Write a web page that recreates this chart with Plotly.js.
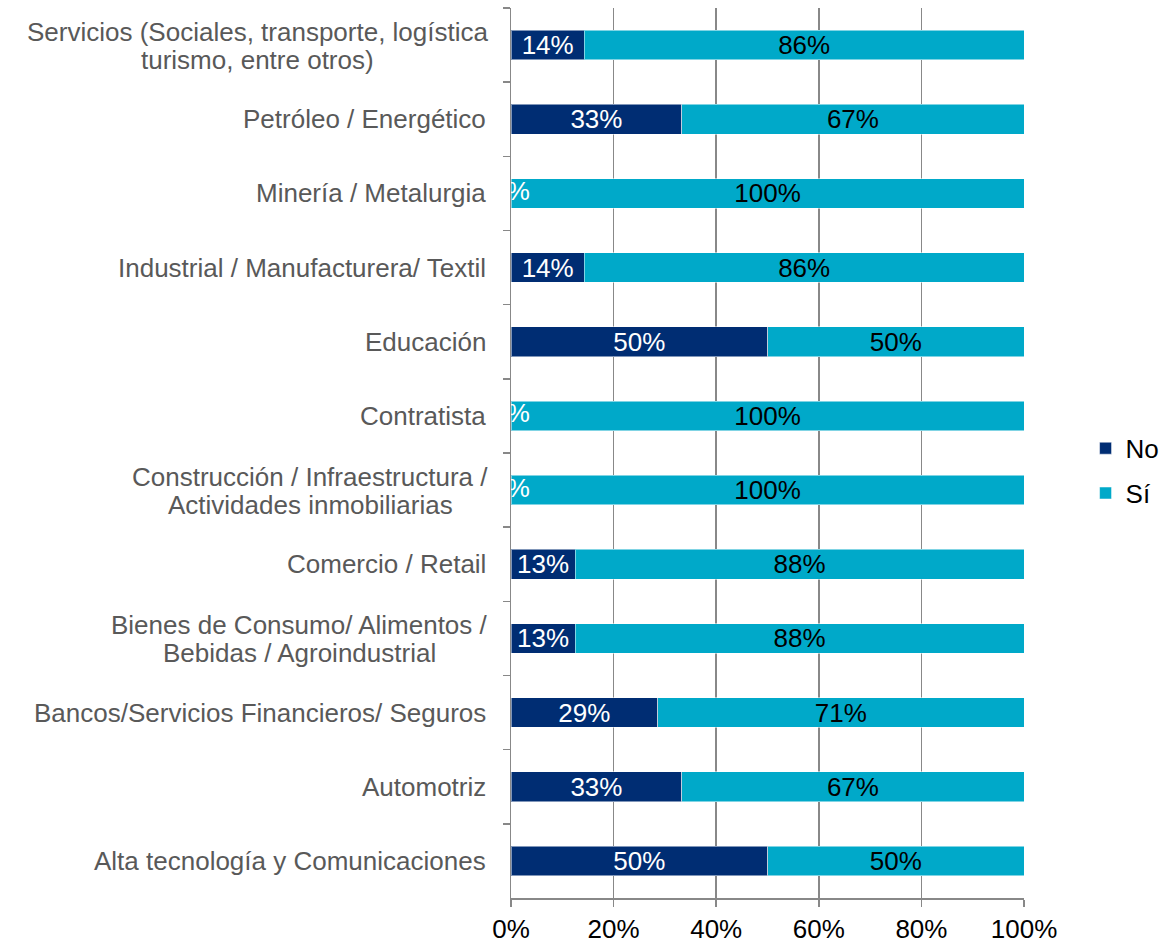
<!DOCTYPE html>
<html>
<head>
<meta charset="utf-8">
<script src="https://cdn.plot.ly/plotly-3.0.1.min.js"></script>
<style>html,body{margin:0;padding:0;background:#fff;}#chart{width:1173px;height:943px;}</style>
</head>
<body>
<div id="chart"></div>
<script>
const categories = [
  "Servicios (Sociales, transporte, logística<br>turismo, entre otros)",
  "Petróleo / Energético",
  "Minería / Metalurgia",
  "Industrial / Manufacturera/ Textil",
  "Educación",
  "Contratista",
  "Construcción / Infraestructura /<br>Actividades inmobiliarias",
  "Comercio / Retail",
  "Bienes de Consumo/ Alimentos /<br>Bebidas / Agroindustrial",
  "Bancos/Servicios Financieros/ Seguros",
  "Automotriz",
  "Alta tecnología y Comunicaciones"
];
const noValues = [14.3, 33.3, 0, 14.3, 50, 0, 0, 12.5, 12.5, 28.6, 33.3, 50];
const siValues = [85.7, 66.7, 100, 85.7, 50, 100, 100, 87.5, 87.5, 71.4, 66.7, 50];
const seriesNames = ["No", "Sí"];
const xTicks = [0, 20, 40, 60, 80, 100];

const FONT = "Liberation Sans, Arial, sans-serif";
const FS = 26;
const cNo = "#002D73";
const cSi = "#00A9C9";

const zeroCats = categories.filter((c, i) => noValues[i] === 0);
const zeroVals = noValues.filter(v => v === 0);

const traces = [
  {
    type: "bar", orientation: "h", name: seriesNames[0], legendgroup: "a",
    y: categories, x: noValues,
    marker: {color: cNo, line: {color: "rgba(255,255,255,0.5)", width: 1}},
    texttemplate: "%{x:.0f}%", textposition: "inside", insidetextanchor: "middle",
    constraintext: "none",
    textfont: {family: FONT, size: FS, color: "#ffffff"},
    hoverinfo: "none"
  },
  {
    type: "bar", orientation: "h", name: seriesNames[1], legendgroup: "b",
    y: categories, x: siValues,
    marker: {color: cSi, line: {color: "rgba(255,255,255,0.5)", width: 1}},
    texttemplate: "%{x:.0f}%", textposition: "inside", insidetextanchor: "middle",
    constraintext: "none",
    textfont: {family: FONT, size: FS, color: "#000000"},
    hoverinfo: "none"
  },
  {
    type: "scatter", mode: "text", showlegend: false,
    y: zeroCats, x: zeroVals,
    text: zeroVals.map(v => v + "%"),
    textposition: "middle center", cliponaxis: true,
    textfont: {family: FONT, size: FS, color: "#ffffff"},
    hoverinfo: "none"
  }
];

// category labels as annotations (centred multi-line like the original)
const cv = document.createElement("canvas").getContext("2d");
cv.font = FS + "px 'Liberation Sans'";
const labelGap = 23;
const lineOffsets = [13, -15];
const annotations = [];
categories.forEach(c => {
  const lines = c.split("<br>");
  if (lines.length === 1) {
    annotations.push({
      xref: "paper", yref: "y", x: 0, y: c, xanchor: "right", yanchor: "middle",
      xshift: -labelGap, showarrow: false, text: c,
      font: {family: FONT, size: FS, color: "#595959"}
    });
  } else {
    const maxW = Math.max(...lines.map(l => cv.measureText(l).width));
    lines.forEach((l, k) => {
      annotations.push({
        xref: "paper", yref: "y", x: 0, y: c, xanchor: "center", yanchor: "middle",
        xshift: -labelGap - maxW / 2, yshift: lineOffsets[k], showarrow: false, text: l,
        font: {family: FONT, size: FS, color: "#595959"}
      });
    });
  }
});

const layout = {
  width: 1173, height: 943,
  margin: {l: 511, r: 149, t: 8, b: 45, autoexpand: false},
  paper_bgcolor: "#ffffff", plot_bgcolor: "rgba(0,0,0,0)",
  barmode: "stack", bargap: 0.6,
  showlegend: true,
  legend: {
    x: 1.12, xanchor: "left", y: 0.48, yanchor: "middle",
    traceorder: "grouped", tracegroupgap: 8,
    font: {family: FONT, size: FS, color: "#000000"},
    itemwidth: 30
  },
  xaxis: {
    range: [0, 100], tickvals: xTicks, ticktext: xTicks.map(v => v + "%"),
    showgrid: true, gridcolor: "#888888", gridwidth: 1.5,
    showline: true, linecolor: "#888888", linewidth: 1.5,
    ticks: "outside", ticklen: 7, tickcolor: "#888888", tickwidth: 1.5,
    zeroline: false,
    tickfont: {family: FONT, size: FS, color: "#000000"}
  },
  yaxis: {
    type: "category", autorange: "reversed",
    showticklabels: false,
    showline: true, linecolor: "#888888", linewidth: 1.5,
    ticks: "outside", tickson: "boundaries", ticklen: 7, tickcolor: "#888888", tickwidth: 1.5,
    showgrid: false, zeroline: false
  },
  annotations: annotations,
  font: {family: FONT}
};

Plotly.newPlot("chart", traces, layout, {displayModeBar: false, staticPlot: true});
</script>
</body>
</html>
